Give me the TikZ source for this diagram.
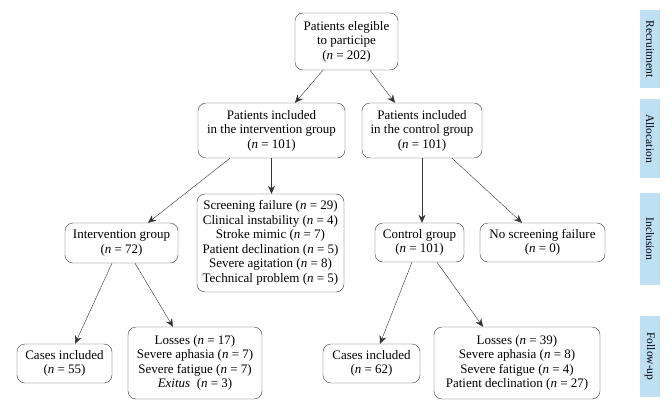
\documentclass[tikz,border=0pt]{standalone}
\usepackage{fontspec}
\setmainfont{Liberation Serif}
\usetikzlibrary{arrows.meta}

\definecolor{stageblue}{RGB}{190,224,245}
\newcommand{\nn}{\textit{n}}

\begin{document}
\begin{tikzpicture}[x=1pt, y=-1pt, line join=round,
  box/.style={draw=black!75, rounded corners=8pt, align=center, inner sep=0pt,
    font=\fontsize{13}{14.5}\selectfont},
  stage/.style={fill=stageblue, minimum height=20pt, inner sep=0pt, rotate=-90,
    font=\fontsize{11.5}{13}\selectfont},
  arr/.style={draw=black!80, -{Stealth[length=8pt,width=7pt]}}]

\useasboundingbox (0,0) rectangle (672,409);

% flow boxes
\node[box, minimum width=103pt, minimum height=57pt] (top) at (346.5,41.5)
  {Patients elegible\\to participe\\(\nn{} = 202)};
\node[box, minimum width=147pt, minimum height=55pt] (intv) at (271.5,130.5)
  {Patients included\\in the intervention group\\(\nn{} = 101)};
\node[box, minimum width=120pt, minimum height=55pt] (ctrl) at (422,130.5)
  {Patients included\\in the control group\\(\nn{} = 101)};
\node[box, minimum width=147pt, minimum height=98pt] (fail) at (270.5,243)
  {Screening failure (\nn{} = 29)\\Clinical instability (\nn{} = 4)\\Stroke mimic (\nn{} = 7)\\Patient declination (\nn{} = 5)\\Severe agitation (\nn{} = 8)\\Technical problem (\nn{} = 5)};
\node[box, minimum width=113pt, minimum height=40pt] (igrp) at (121.5,243)
  {Intervention group\\(\nn{} = 72)};
\node[box, minimum width=89pt, minimum height=39pt] (cgrp) at (419.5,242.5)
  {Control group\\(\nn{} = 101)};
\node[box, minimum width=125pt, minimum height=39pt] (nofail) at (542.5,242.5)
  {No screening failure\\(\nn{} = 0)};
\node[box, minimum width=95pt, minimum height=39pt] (icases) at (64.5,363.5)
  {Cases included\\(\nn{} = 55)};
\node[box, minimum width=134pt, minimum height=72pt] (ilosses) at (195,363)
  {Losses (\nn{} = 17)\\Severe aphasia (\nn{} = 7)\\Severe fatigue (\nn{} = 7)\\\textit{Exitus}\ \ (\nn{} = 3)};
\node[box, minimum width=97pt, minimum height=39pt] (ccases) at (371.5,363.5)
  {Cases included\\(\nn{} = 62)};
\node[box, minimum width=166pt, minimum height=72pt] (closses) at (517,363)
  {Losses (\nn{} = 39)\\Severe aphasia (\nn{} = 8)\\Severe fatigue (\nn{} = 4)\\Patient declination (\nn{} = 27)};

% stage labels
\node[stage, minimum width=78pt] (recr) at (650,49) {Recruitment};
\node[stage, minimum width=79pt] (alloc) at (650,138.5) {Allocation};
\node[stage, minimum width=92pt] (incl) at (650,239) {Inclusion};
\node[stage, minimum width=81pt] (follow) at (650,356.5) {Follow-up};

% arrows
\draw[arr] ([xshift=-23.5pt]top.south) -- ([xshift=23.5pt]intv.north);
\draw[arr] ([xshift=23.5pt]top.south) -- ([xshift=-27pt]ctrl.north);
\draw[arr] ([xshift=-41.5pt]intv.south) -- ([xshift=26.5pt]igrp.north);
\draw[arr] (intv.south) -- (intv.south |- fail.north);
\draw[arr] (ctrl.south) -- (ctrl.south |- cgrp.north);
\draw[arr] ([xshift=30pt]ctrl.south) -- ([xshift=-20.5pt]nofail.north);
\draw[arr] ([xshift=-9.5pt]igrp.south) -- ([xshift=10.5pt]icases.north);
\draw[arr] ([xshift=13.5pt]igrp.south) -- ([xshift=-22pt]ilosses.north);
\draw[arr] ([xshift=-7.5pt]cgrp.south) -- ([xshift=8.5pt]ccases.north);
\draw[arr] ([xshift=17.5pt]cgrp.south) -- ([xshift=-34pt]closses.north);

\end{tikzpicture}
\end{document}
